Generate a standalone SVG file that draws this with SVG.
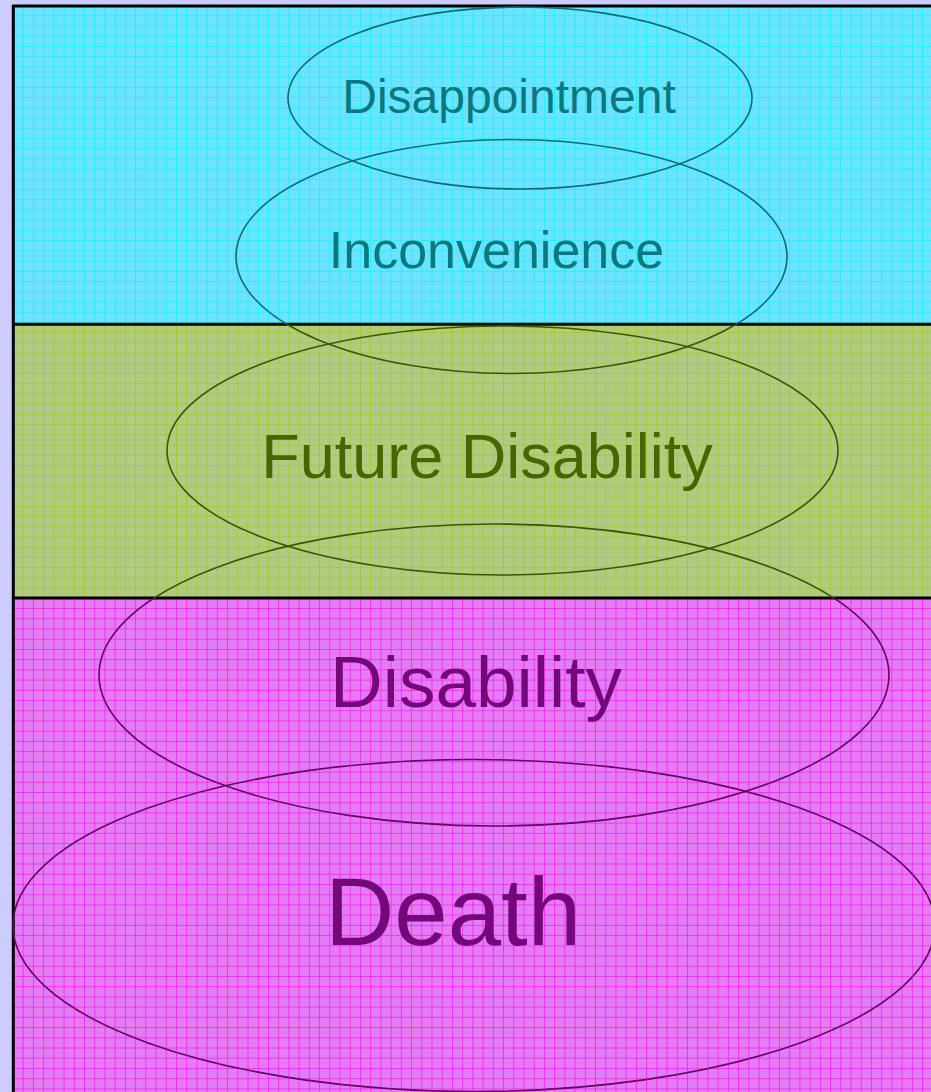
<svg xmlns="http://www.w3.org/2000/svg" xmlns:xlink="http://www.w3.org/1999/xlink" width="931" height="1092" viewBox="0 0 931 1092">
<style>
  .lbl { font-family: "Liberation Sans", Arial, sans-serif; text-anchor: middle; }
  .tc { fill: #0a787d; }
  .tg { fill: #4a6400; }
  .tm { fill: #74087a; }
  .oc { fill: none; stroke: #0a6c72; stroke-width: 1.6; }
  .og { fill: none; stroke: #3b5600; stroke-width: 1.6; }
  .om { fill: none; stroke: #660066; stroke-width: 1.6; }
  .frame { stroke: #000; fill: none; }
</style>
<defs>
  <pattern id="pc" patternUnits="userSpaceOnUse" x="12.5" y="5.1" width="10.22" height="10.22">
    <rect width="10.22" height="10.22" fill="#6ce4ff"/>
    <path d="M0 0H10.22M0 0V10.22" stroke="#0ff4ff" stroke-width="1.5" fill="none"/>
  </pattern>
  <pattern id="pg" patternUnits="userSpaceOnUse" x="12.5" y="5.1" width="10.22" height="10.22">
    <rect width="10.22" height="10.22" fill="#b3ca82"/>
    <path d="M0 0H10.22M0 0V10.22" stroke="#a2cc22" stroke-width="1.5" fill="none"/>
  </pattern>
  <pattern id="pm" patternUnits="userSpaceOnUse" x="12.5" y="5.1" width="10.22" height="10.22">
    <rect width="10.22" height="10.22" fill="#e47cf3"/>
    <path d="M0 0H10.22M0 0V10.22" stroke="#f81cf6" stroke-width="1.5" fill="none"/>
  </pattern>
  <clipPath id="clipC"><rect x="0" y="0" width="931" height="324.3"/></clipPath>
  <clipPath id="clipG"><rect x="0" y="324.3" width="931" height="273.7"/></clipPath>
  <clipPath id="clipM"><rect x="0" y="598" width="931" height="494"/></clipPath>
  <ellipse id="e1" cx="520" cy="98" rx="232" ry="91"/>
  <ellipse id="e2" cx="511.5" cy="256.5" rx="275.5" ry="117"/>
  <ellipse id="e3" cx="502.5" cy="450.5" rx="335.5" ry="124.5"/>
  <ellipse id="e4" cx="494" cy="675" rx="395" ry="151"/>
  <ellipse id="e5" cx="474" cy="925.5" rx="461" ry="166"/>
</defs>

<rect width="931" height="1092" fill="#ccccff"/>

<g id="bands">
  <rect x="13.3" y="6" width="920" height="318.3" fill="url(#pc)"/>
  <rect x="13.3" y="324.3" width="920" height="273.7" fill="url(#pg)"/>
  <rect x="13.3" y="598" width="920" height="496" fill="url(#pm)"/>
  <path class="frame" d="M12 6H931" stroke-width="3"/>
  <path class="frame" d="M13.3 5V1092" stroke-width="3"/>
  <path class="frame" d="M12 324.3H931" stroke-width="3"/>
  <path class="frame" d="M12 598H931" stroke-width="3"/>
</g>

<g id="node-disappointment">
  <use xlink:href="#e1" href="#e1" class="oc"/>
  <text class="lbl tc" x="509" y="112.7" font-size="48">Disappointment</text>
</g>

<g id="node-inconvenience">
  <use xlink:href="#e2" href="#e2" class="oc" clip-path="url(#clipC)"/>
  <use xlink:href="#e2" href="#e2" class="og" clip-path="url(#clipG)"/>
  <text class="lbl tc" x="496.5" y="268.3" font-size="52">Inconvenience</text>
</g>

<g id="node-future-disability">
  <use xlink:href="#e3" href="#e3" class="og" clip-path="url(#clipG)"/>
  <use xlink:href="#e3" href="#e3" class="oc" clip-path="url(#clipC)"/>
  <text class="lbl tg" x="487" y="478.3" font-size="63">Future Disability</text>
</g>

<g id="node-disability">
  <use xlink:href="#e4" href="#e4" class="og" clip-path="url(#clipG)"/>
  <use xlink:href="#e4" href="#e4" class="om" clip-path="url(#clipM)"/>
  <text class="lbl tm" x="476" y="706.7" font-size="73">Disability</text>
</g>

<g id="node-death">
  <use xlink:href="#e5" href="#e5" class="om"/>
  <text class="lbl tm" x="453" y="945" font-size="96">Death</text>
</g>

<g id="connectors"></g>
</svg>
